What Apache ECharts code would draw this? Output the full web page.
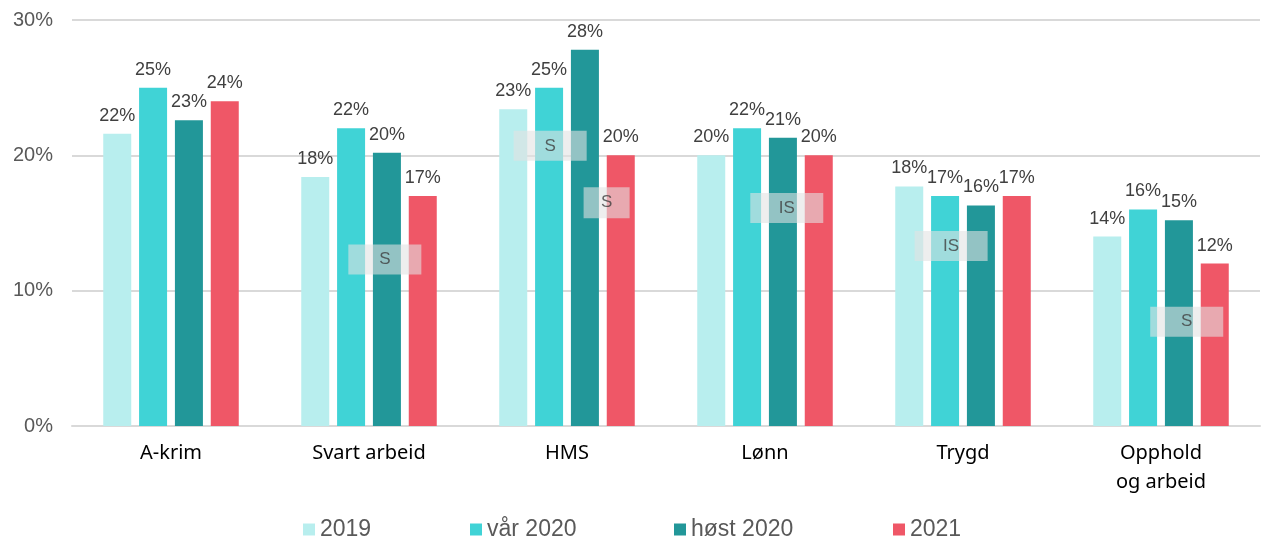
<!DOCTYPE html>
<html>
<head>
<meta charset="utf-8">
<script src="https://cdn.jsdelivr.net/npm/echarts@6/dist/echarts.min.js"></script>
<style>
  html, body { margin: 0; padding: 0; background: #fff; }
  #chart { width: 1262px; height: 537px; }
</style>
</head>
<body>
<div id="chart"></div>
<script>
// kategorier og serier
const categories = ["A-krim", "Svart arbeid", "HMS", "Lønn", "Trygd", "Opphold\nog arbeid"];
const seriesNames = ["2019", "vår 2020", "høst 2020", "2021"];
const v2019 = [21.6, 18.4, 23.4, 20.0, 17.7, 14.0];
const vaar2020 = [25.0, 22.0, 25.0, 22.0, 17.0, 16.0];
const host2020 = [22.6, 20.2, 27.8, 21.3, 16.3, 15.2];
const v2021 = [24.0, 17.0, 20.0, 20.0, 17.0, 12.0];
const yTicks = [0, 10, 20, 30];

// merknader (S / IS) i dataenheter: [kategori-indeks, verdi]
const noteText = ["S", "S", "S", "IS", "IS", "S"];
const notePos = [[1.08, 12.3], [1.915, 20.7], [2.2, 16.5], [3.11, 16.1], [3.94, 13.3], [5.13, 7.7]];

const colors = ["#b8eeee", "#40d3d6", "#229799", "#ef5767"];
const allValues = [v2019, vaar2020, host2020, v2021];
const arial = "'Liberation Sans', Arial, sans-serif";

var chart = echarts.init(document.getElementById("chart"));

const barSeries = allValues.map(function (vals, i) {
    return {
        name: seriesNames[i],
        type: "bar",
        data: vals,
        barWidth: 28,
        barGap: "28%",
        itemStyle: { color: colors[i] },
        label: {
            show: true,
            position: "top",
            distance: 9,
            color: "#404040",
            fontFamily: arial,
            fontSize: 18,
            formatter: function (p) { return Math.round(p.value) + "%"; }
        },
        z: 2
    };
});

const legendLefts = [303, 470, 674, 893];

chart.setOption({
    animation: false,
    grid: { left: 72, right: 2, top: 20, bottom: 111 },
    legend: seriesNames.map(function (n, i) {
        return {
            data: [n],
            left: legendLefts[i],
            top: 518,
            icon: "rect",
            itemWidth: 12,
            itemHeight: 12,
            itemGap: 0,
            padding: 0,
            textStyle: {
                color: "#595959",
                fontFamily: arial,
                fontSize: 23
            }
        };
    }),
    xAxis: [
        {
            type: "category",
            data: categories,
            axisTick: { show: false },
            axisLine: { lineStyle: { color: "#d9d9d9", width: 2 } },
            axisLabel: {
                color: "#000",
                fontFamily: "'Noto Sans', sans-serif",
                fontSize: 20,
                lineHeight: 29,
                margin: 13
            }
        },
        { type: "value", min: -0.5, max: 5.5, show: false }
    ],
    yAxis: {
        type: "value",
        min: yTicks[0],
        max: yTicks[yTicks.length - 1],
        interval: 10,
        axisLine: { show: false },
        axisTick: { show: false },
        splitLine: { lineStyle: { color: "#d9d9d9", width: 2 } },
        axisLabel: {
            formatter: "{value}%",
            color: "#595959",
            fontFamily: arial,
            fontSize: 20,
            margin: 19
        }
    },
    series: barSeries.concat([
        {
            type: "scatter",
            xAxisIndex: 1,
            data: notePos.map(function (p, i) { return { value: p, name: noteText[i] }; }),
            symbol: "rect",
            symbolSize: function (val, params) {
                return params.dataIndex === 2 ? [46, 31] : [73, 30];
            },
            itemStyle: { color: "rgba(226,226,226,0.74)" },
            label: {
                show: true,
                position: "inside",
                formatter: "{b}",
                color: "#404040",
                fontFamily: arial,
                fontSize: 17
            },
            silent: true,
            z: 5
        }
    ])
});
</script>
</body>
</html>
